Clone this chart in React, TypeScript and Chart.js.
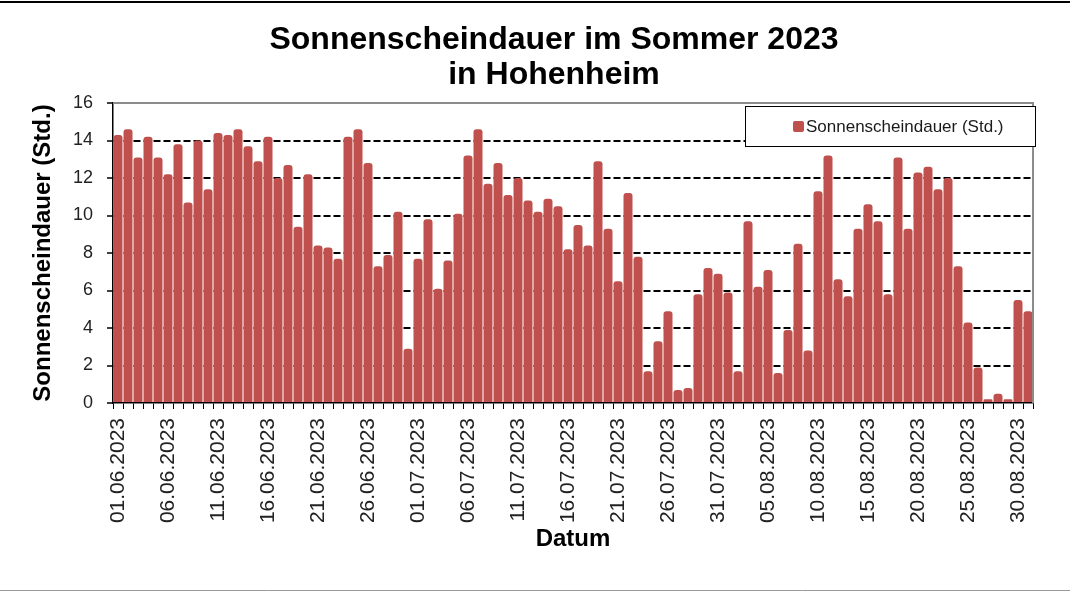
import React, { useEffect, useRef } from 'react';
import { Chart, registerables } from 'chart.js';

Chart.register(...registerables);

// ---- data ----
const juneValues = [
  14.3, 14.6, 13.1, 14.2, 13.1, 12.2, 13.8, 10.7, 14.0, 11.4,
  14.4, 14.3, 14.6, 13.7, 12.9, 14.2, 12.0, 12.7, 9.4, 12.2,
  8.4, 8.3, 7.7, 14.2, 14.6, 12.8, 7.3, 7.9, 10.2, 2.9,
];
const julyValues = [
  7.7, 9.8, 6.1, 7.6, 10.1, 13.2, 14.6, 11.7, 12.8, 11.1,
  12.0, 10.8, 10.2, 10.9, 10.5, 8.2, 9.5, 8.4, 12.9, 9.3,
  6.5, 11.2, 7.8, 1.7, 3.3, 4.9, 0.7, 0.8, 5.8, 7.2, 6.9,
];
const augustValues = [
  5.9, 1.7, 9.7, 6.2, 7.1, 1.6, 3.9, 8.5, 2.8, 11.3,
  13.2, 6.6, 5.7, 9.3, 10.6, 9.7, 5.8, 13.1, 9.3, 12.3,
  12.6, 11.4, 12.0, 7.3, 4.3, 1.9, 0.2, 0.5, 0.2, 5.5, 4.9,
];
const months: [string, number][] = [['06', 30], ['07', 31], ['08', 31]];
const categories = months.flatMap(([m, n]) =>
  Array.from({ length: n }, (_, i) => `${String(i + 1).padStart(2, '0')}.${m}.2023`)
);
const sunshineHours = [...juneValues, ...julyValues, ...augustValues];
const labelEvery = 5;
const titleLines = ['Sonnenscheindauer im Sommer 2023', 'in Hohenheim'];
const seriesLabel = 'Sonnenscheindauer (Std.)';
const yAxisTitle = 'Sonnenscheindauer (Std.)';
const xAxisTitle = 'Datum';

const FONT = '"Liberation Sans", Arial, sans-serif';
const BAR_COLOR = '#C0504D';

const decorPlugin = {
  id: 'decor',
  afterLayout(chart: any) {
    const tb = chart.titleBlock;
    if (tb) {
      const w = tb.right - tb.left;
      const c = 554;
      tb.left = c - w / 2;
      tb.right = c + w / 2;
    }
  },
  afterDraw(chart: any) {
    const { ctx, chartArea } = chart;
    ctx.save();
    // outer frame lines
    ctx.strokeStyle = '#000';
    ctx.lineWidth = 2;
    ctx.beginPath();
    ctx.moveTo(0, 2);
    ctx.lineTo(1070, 2);
    ctx.stroke();
    ctx.strokeStyle = '#9a9a9a';
    ctx.lineWidth = 1;
    ctx.beginPath();
    ctx.moveTo(0, 590.5);
    ctx.lineTo(1070, 590.5);
    ctx.stroke();
    // plot area top / right border
    ctx.strokeStyle = '#8c8c8c';
    ctx.lineWidth = 2;
    ctx.beginPath();
    ctx.moveTo(chartArea.left, chartArea.top);
    ctx.lineTo(chartArea.right, chartArea.top);
    ctx.lineTo(chartArea.right, chartArea.bottom);
    ctx.stroke();
    // legend
    const bx = 745, by = 106, bw = 290, bh = 40;
    ctx.fillStyle = '#fff';
    ctx.fillRect(bx, by, bw, bh);
    ctx.strokeStyle = '#000';
    ctx.lineWidth = 1;
    ctx.strokeRect(bx + 0.5, by + 0.5, bw, bh);
    ctx.fillStyle = BAR_COLOR;
    ctx.beginPath();
    (ctx as any).roundRect ? ctx.roundRect(793, 121, 11, 11, 2) : ctx.rect(793, 121, 11, 11);
    ctx.fill();
    ctx.fillStyle = '#1a1a1a';
    ctx.font = `17px ${FONT}`;
    ctx.textAlign = 'left';
    ctx.textBaseline = 'middle';
    ctx.fillText(chart.data.datasets[0].label, 806, 127);
    ctx.restore();
  },
};

export default function App() {
  const ref = useRef<HTMLCanvasElement | null>(null);
  useEffect(() => {
    if (!ref.current) return;
    const chart = new Chart(ref.current, {
      type: 'bar',
      data: {
        labels: categories,
        datasets: [
          {
            label: seriesLabel,
            data: sunshineHours,
            backgroundColor: BAR_COLOR,
            borderWidth: 0,
            borderRadius: 3,
            barPercentage: 0.9,
            categoryPercentage: 1,
          },
        ],
      },
      options: {
        responsive: false,
        animation: false,
        devicePixelRatio: 1,
        layout: { padding: { left: 20, right: 37, top: 0, bottom: 0 } },
        plugins: {
          legend: { display: false },
          tooltip: { enabled: false },
          title: {
            display: true,
            text: titleLines,
            color: '#000',
            font: { family: FONT, size: 32, weight: 'bold', lineHeight: 35 / 32 },
            padding: { top: 23, bottom: 10 },
          },
        },
        scales: {
          x: {
            grid: {
              offset: true,
              drawOnChartArea: false,
              color: '#000',
              lineWidth: 1,
              tickLength: 6,
            },
            border: { color: '#000', width: 1.5 },
            ticks: {
              autoSkip: false,
              maxRotation: 90,
              minRotation: 90,
              padding: 9,
              color: '#222',
              font: { family: FONT, size: 21 },
              callback: (_v: any, i: number) => (i % labelEvery === 0 ? categories[i] : ''),
            },
            title: {
              display: true,
              text: xAxisTitle,
              color: '#000',
              font: { family: FONT, size: 24, weight: 'bold', lineHeight: 1.2 },
              padding: { top: 0, bottom: 38.6 },
            },
            afterFit: (s: any) => {
              s.height = 189;
            },
          },
          y: {
            min: 0,
            max: 16,
            ticks: {
              stepSize: 2,
              padding: 14,
              color: '#222',
              font: { family: FONT, size: 18 },
            },
            grid: {
              color: (c: any) =>
                c.tick && (c.tick.value === 0 || c.tick.value === 16) ? 'rgba(0,0,0,0)' : '#000',
              lineWidth: 2,
              tickLength: 6,
              tickColor: '#000',
              tickWidth: 1.5,
              tickBorderDash: [],
            },
            border: { color: '#000', width: 1.5, dash: [7, 3] },
            title: {
              display: true,
              text: yAxisTitle,
              color: '#000',
              font: { family: FONT, size: 24, weight: 'bold', lineHeight: 1.2 },
              padding: { top: 8.6, bottom: 0 },
            },
            afterFit: (s: any) => {
              s.width = 93;
            },
          },
        },
      } as any,
      plugins: [decorPlugin],
    });
    return () => chart.destroy();
  }, []);
  return (
    <div style={{ position: 'absolute', left: 0, top: 0, width: 1070, height: 592, background: '#fff' }}>
      <canvas ref={ref} width={1070} height={592} style={{ display: 'block' }} />
    </div>
  );
}
